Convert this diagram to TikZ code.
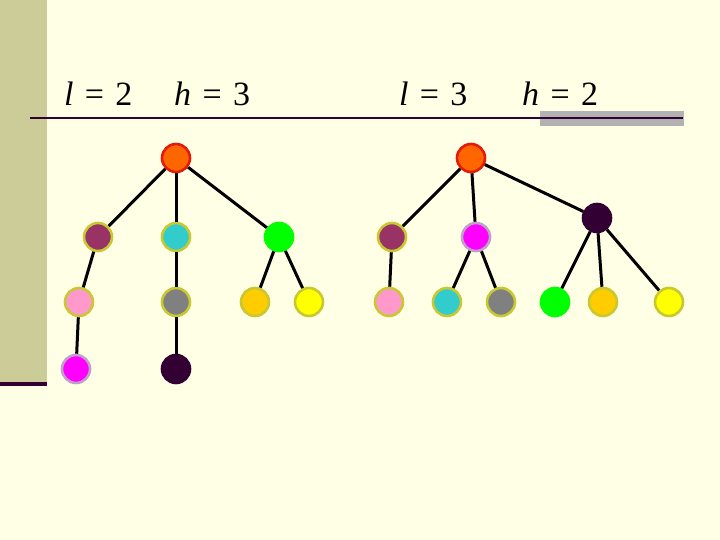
\documentclass[tikz,border=0pt]{standalone}
\usepackage{fontspec}
\setmainfont{Liberation Serif}
\definecolor{pageBg}{HTML}{FFFFE5}
\definecolor{stripeOlive}{HTML}{CCCC99}
\definecolor{rulePlum}{HTML}{330033}
\definecolor{barGrey}{HTML}{B2B2B2}
\definecolor{rimOlive}{HTML}{C8C832}
\definecolor{rimLilac}{HTML}{C0A0C8}
\definecolor{rimRed}{HTML}{E41A0A}
\definecolor{nodeOrange}{HTML}{FF6600}
\definecolor{nodePlum}{HTML}{993366}
\definecolor{nodeCyan}{HTML}{33CCCC}
\definecolor{nodeGreen}{HTML}{00FF00}
\definecolor{nodePink}{HTML}{FF99CC}
\definecolor{nodeGrey}{HTML}{808080}
\definecolor{nodeGold}{HTML}{FFCC00}
\definecolor{nodeYellow}{HTML}{FFFF00}
\definecolor{nodeMagenta}{HTML}{FF00FF}
\definecolor{nodeDark}{HTML}{330033}

\begin{document}
\begin{tikzpicture}[x=1pt,y=-1pt,
    vtx/.style={circle,minimum size=28pt,inner sep=0pt,line width=2.6pt},
    edge/.style={line width=3pt},
    lbl/.style={font=\fontsize{34}{40}\selectfont,anchor=base west,inner sep=0pt}]
  % page
  \fill[pageBg] (0,0) rectangle (720,540);
  \fill[stripeOlive] (0,0) rectangle (47,382);
  \fill[rulePlum] (0,382) rectangle (47,386);
  \fill[barGrey] (540,111) rectangle (684,126);
  \draw[rulePlum,line width=2pt] (30,118)--(683,118);
  % headings
  \node[lbl] (lenA) at (64,106) {\textit{l}\,\,=\,\,2};
  \node[lbl] (hgtA) at (174,106) {\textit{h}\,\,=\,\,3};
  \node[lbl] (lenB) at (399,106) {\textit{l}\,\,=\,\,3};
  \node[lbl] (hgtB) at (522,106) {\textit{h}\,\,=\,\,2};
  % left tree
  \foreach \n/\x/\y/\fc/\rc in {%
      ar/176/158/nodeOrange/rimRed,
      a1/98/237/nodePlum/rimOlive,
      a2/176/237/nodeCyan/rimOlive,
      a3/279/237/nodeGreen/nodeGreen,
      a11/79/302/nodePink/rimOlive,
      a21/176/302/nodeGrey/rimOlive,
      a31/255/302/nodeGold/rimOlive,
      a32/309/302/nodeYellow/rimOlive,
      a111/76/369/nodeMagenta/rimLilac,
      a211/176/369/nodeDark/nodeDark}{%
    \node[vtx,fill=\fc,draw=\rc] (\n) at (\x,\y) {};
  }
  % right tree
  \foreach \n/\x/\y/\fc/\rc in {%
      br/471/158/nodeOrange/rimRed,
      b1/392/237/nodePlum/rimOlive,
      b2/476/237/nodeMagenta/rimLilac,
      b3/597/218/nodeDark/nodeDark,
      b11/389/302/nodePink/rimOlive,
      b21/447/302/nodeCyan/rimOlive,
      b22/501/302/nodeGrey/rimOlive,
      b31/555/302/nodeGreen/nodeGreen,
      b32/603/302/nodeGold/rimOlive,
      b33/669/302/nodeYellow/rimOlive}{%
    \node[vtx,fill=\fc,draw=\rc] (\n) at (\x,\y) {};
  }
  \foreach \a/\b in {ar/a1,ar/a2,ar/a3,a1/a11,a2/a21,a3/a31,a3/a32,a11/a111,a21/a211,
      br/b1,br/b2,br/b3,b1/b11,b2/b21,b2/b22,b3/b31,b3/b32,b3/b33}
    \draw[edge] (\a) -- (\b);
\end{tikzpicture}
\end{document}
